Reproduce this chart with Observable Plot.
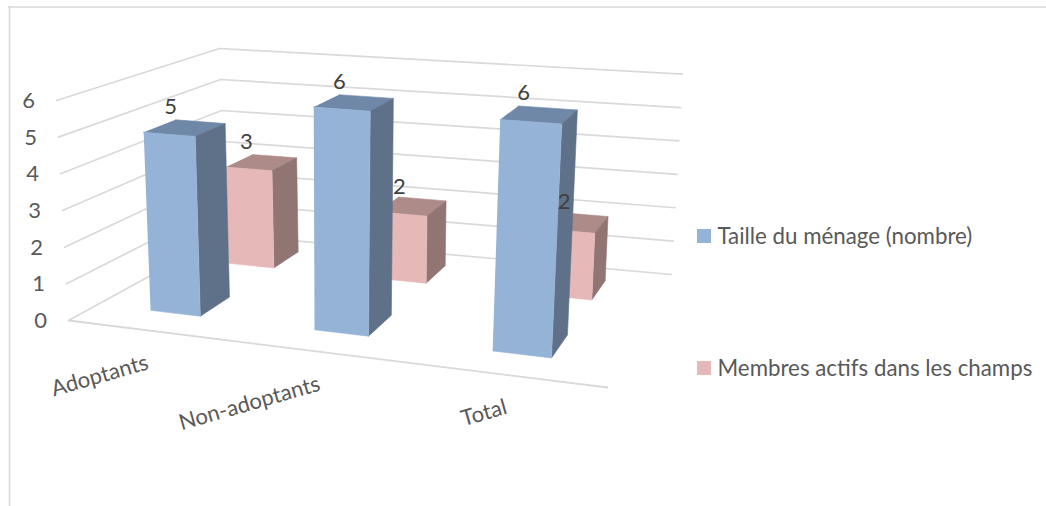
<!DOCTYPE html>
<html lang="fr">
<head>
<meta charset="utf-8">
<style>html,body{margin:0;padding:0;background:#fff}svg{display:block}</style>
<script src="https://cdn.jsdelivr.net/npm/d3@7"></script>
<script src="https://cdn.jsdelivr.net/npm/@observablehq/plot@0.6"></script>
</head>
<body>
<script>
const categories = ["Adoptants", "Non-adoptants", "Total"];
const seriesNames = ["Taille du ménage (nombre)", "Membres actifs dans les champs"];
const tailleMenage = [4.95, 6.0, 6.03];
const membresActifs = [2.93, 1.97, 1.9];
const valueTicks = [0, 1, 2, 3, 4, 5, 6];

const W = 1046, H = 506, FONT = "Lato, sans-serif";
const frontColors = ["#95B3D7", "#E6B8B7"];
const sideColors = ["#5F7089", "#917573"];
const topColors = ["#7088A8", "#AD8B89"];
const GRID = "#D9D9D9", AXIS_TEXT = "#595959", LABEL_TEXT = "#404040";

// The chart's 3-D box seen in perspective: its 8 corners on the page
const floorC = {fl: [68, 320], fr: [607, 387], bl: [225, 234], br: [671, 274]};
const topC = {fl: [56, 100], fr: [621, 143], bl: [219, 48], br: [682, 73.7]};
const HMAX = 6;
const lerp = (a, b, t) => a + (b - a) * t;
const warp = t => t / (t + 1.134 * (1 - t));
const bilinear = (c, u, v, i) => lerp(lerp(c.fl[i], c.fr[i], u), lerp(c.bl[i], c.br[i], u), v);
function project(t, v, h) {
  const u = warp(t), k = h / HMAX;
  return [lerp(bilinear(floorC, u, v, 0), bilinear(topC, u, v, 0), k),
          lerp(bilinear(floorC, u, v, 1), bilinear(topC, u, v, 1), k)];
}
const catCenter = i => (i + 0.5) / categories.length;
const HALF_W = 0.052, BAR_SHIFT = -0.0025;
const depthRange = [[0.19, 0.40], [0.72, 0.895]];

const px = d => d[0], py = d => d[1];
const poly = (pts, fill) => Plot.line(pts, {x: px, y: py, fill, stroke: fill, strokeWidth: 0.6, curve: "linear"});
const gridLine = (pts, sw = 1.7) => Plot.line(pts, {x: px, y: py, stroke: GRID, strokeWidth: sw, curve: "linear"});

function bar(i, s, value) {
  const t0 = catCenter(i) + BAR_SHIFT - HALF_W, t1 = catCenter(i) + BAR_SHIFT + HALF_W;
  const [v0, v1] = depthRange[s];
  const p = (t, v, h) => project(t, v, h);
  return [
    poly([p(t0, v0, value), p(t1, v0, value), p(t1, v1, value), p(t0, v1, value)], topColors[s]),
    poly([p(t1, v0, 0), p(t1, v1, 0), p(t1, v1, value), p(t1, v0, value)], sideColors[s]),
    poly([p(t0, v0, 0), p(t1, v0, 0), p(t1, v0, value), p(t0, v0, value)], frontColors[s])
  ];
}

const grid = valueTicks.map(h => gridLine([project(0, 0, h), project(0, 1, h), project(1, 1, h)]));
const valueSeries = [tailleMenage, membresActifs];
const backBars = membresActifs.flatMap((d, i) => bar(i, 1, d));
const frontBars = tailleMenage.flatMap((d, i) => bar(i, 0, d));

// Label offsets from each bar's back-left top corner, per series and category
const labelDx = [[-6, -1, 4], [-7, 0, 7]];
const labelDy = [[-13, -13, -13], [-13, -10, -10]];
const labelRows = valueSeries.flatMap((vals, s) => vals.map((d, i) => {
  const q = project(catCenter(i) - HALF_W, depthRange[s][1], d);
  return {x: q[0] + labelDx[s][i], y: q[1] + labelDy[s][i], text: d3.format(".0f")(d)};
}));
const tickRows = valueTicks.map(h => {
  const q = project(0, 0, h);
  return {x: q[0] - 28, y: q[1] + 0.5, text: String(h)};
});
const catRows = categories.map((c, i) => {
  const q = project(catCenter(i), 0, 0);
  return {x: q[0] - 1.5, y: q[1] + 31.5, text: c};
});
const legendRows = seriesNames.map((name, s) => ({name, s, yc: 236 + s * 132}));

const chart = Plot.plot({
  width: W, height: H,
  margin: 0,
  x: {domain: [0, W], range: [0, W], axis: null},
  y: {domain: [0, H], range: [0, H], axis: null},
  style: {background: "#fff", fontFamily: FONT},
  marks: [
    Plot.ruleX([9], {y1: 6, y2: H, stroke: GRID, strokeWidth: 1.6}),
    Plot.ruleY([6.5], {x1: 8, x2: W, stroke: GRID, strokeWidth: 1.6}),
    ...grid,
    gridLine([project(0, 0, 0), project(1, 0, 0)], 1.8),
    ...backBars,
    ...frontBars,
    Plot.text(tickRows, {x: "x", y: "y", text: "text", fill: AXIS_TEXT, fontSize: 22, textAnchor: "middle"}),
    Plot.text(catRows, {x: "x", y: "y", text: "text", fill: AXIS_TEXT, fontSize: 22, textAnchor: "end", rotate: -16}),
    Plot.text(labelRows, {x: "x", y: "y", text: "text", fill: LABEL_TEXT, fontSize: 22, textAnchor: "middle"}),
    Plot.rect(legendRows, {x1: () => 697, x2: () => 711, y1: d => d.yc - 7, y2: d => d.yc + 7, fill: d => frontColors[d.s]}),
    Plot.text(legendRows, {x: () => 717, y: "yc", text: "name", fill: AXIS_TEXT, fontSize: 22.3, textAnchor: "start"})
  ]
});
document.body.appendChild(chart);
</script>
</body>
</html>
